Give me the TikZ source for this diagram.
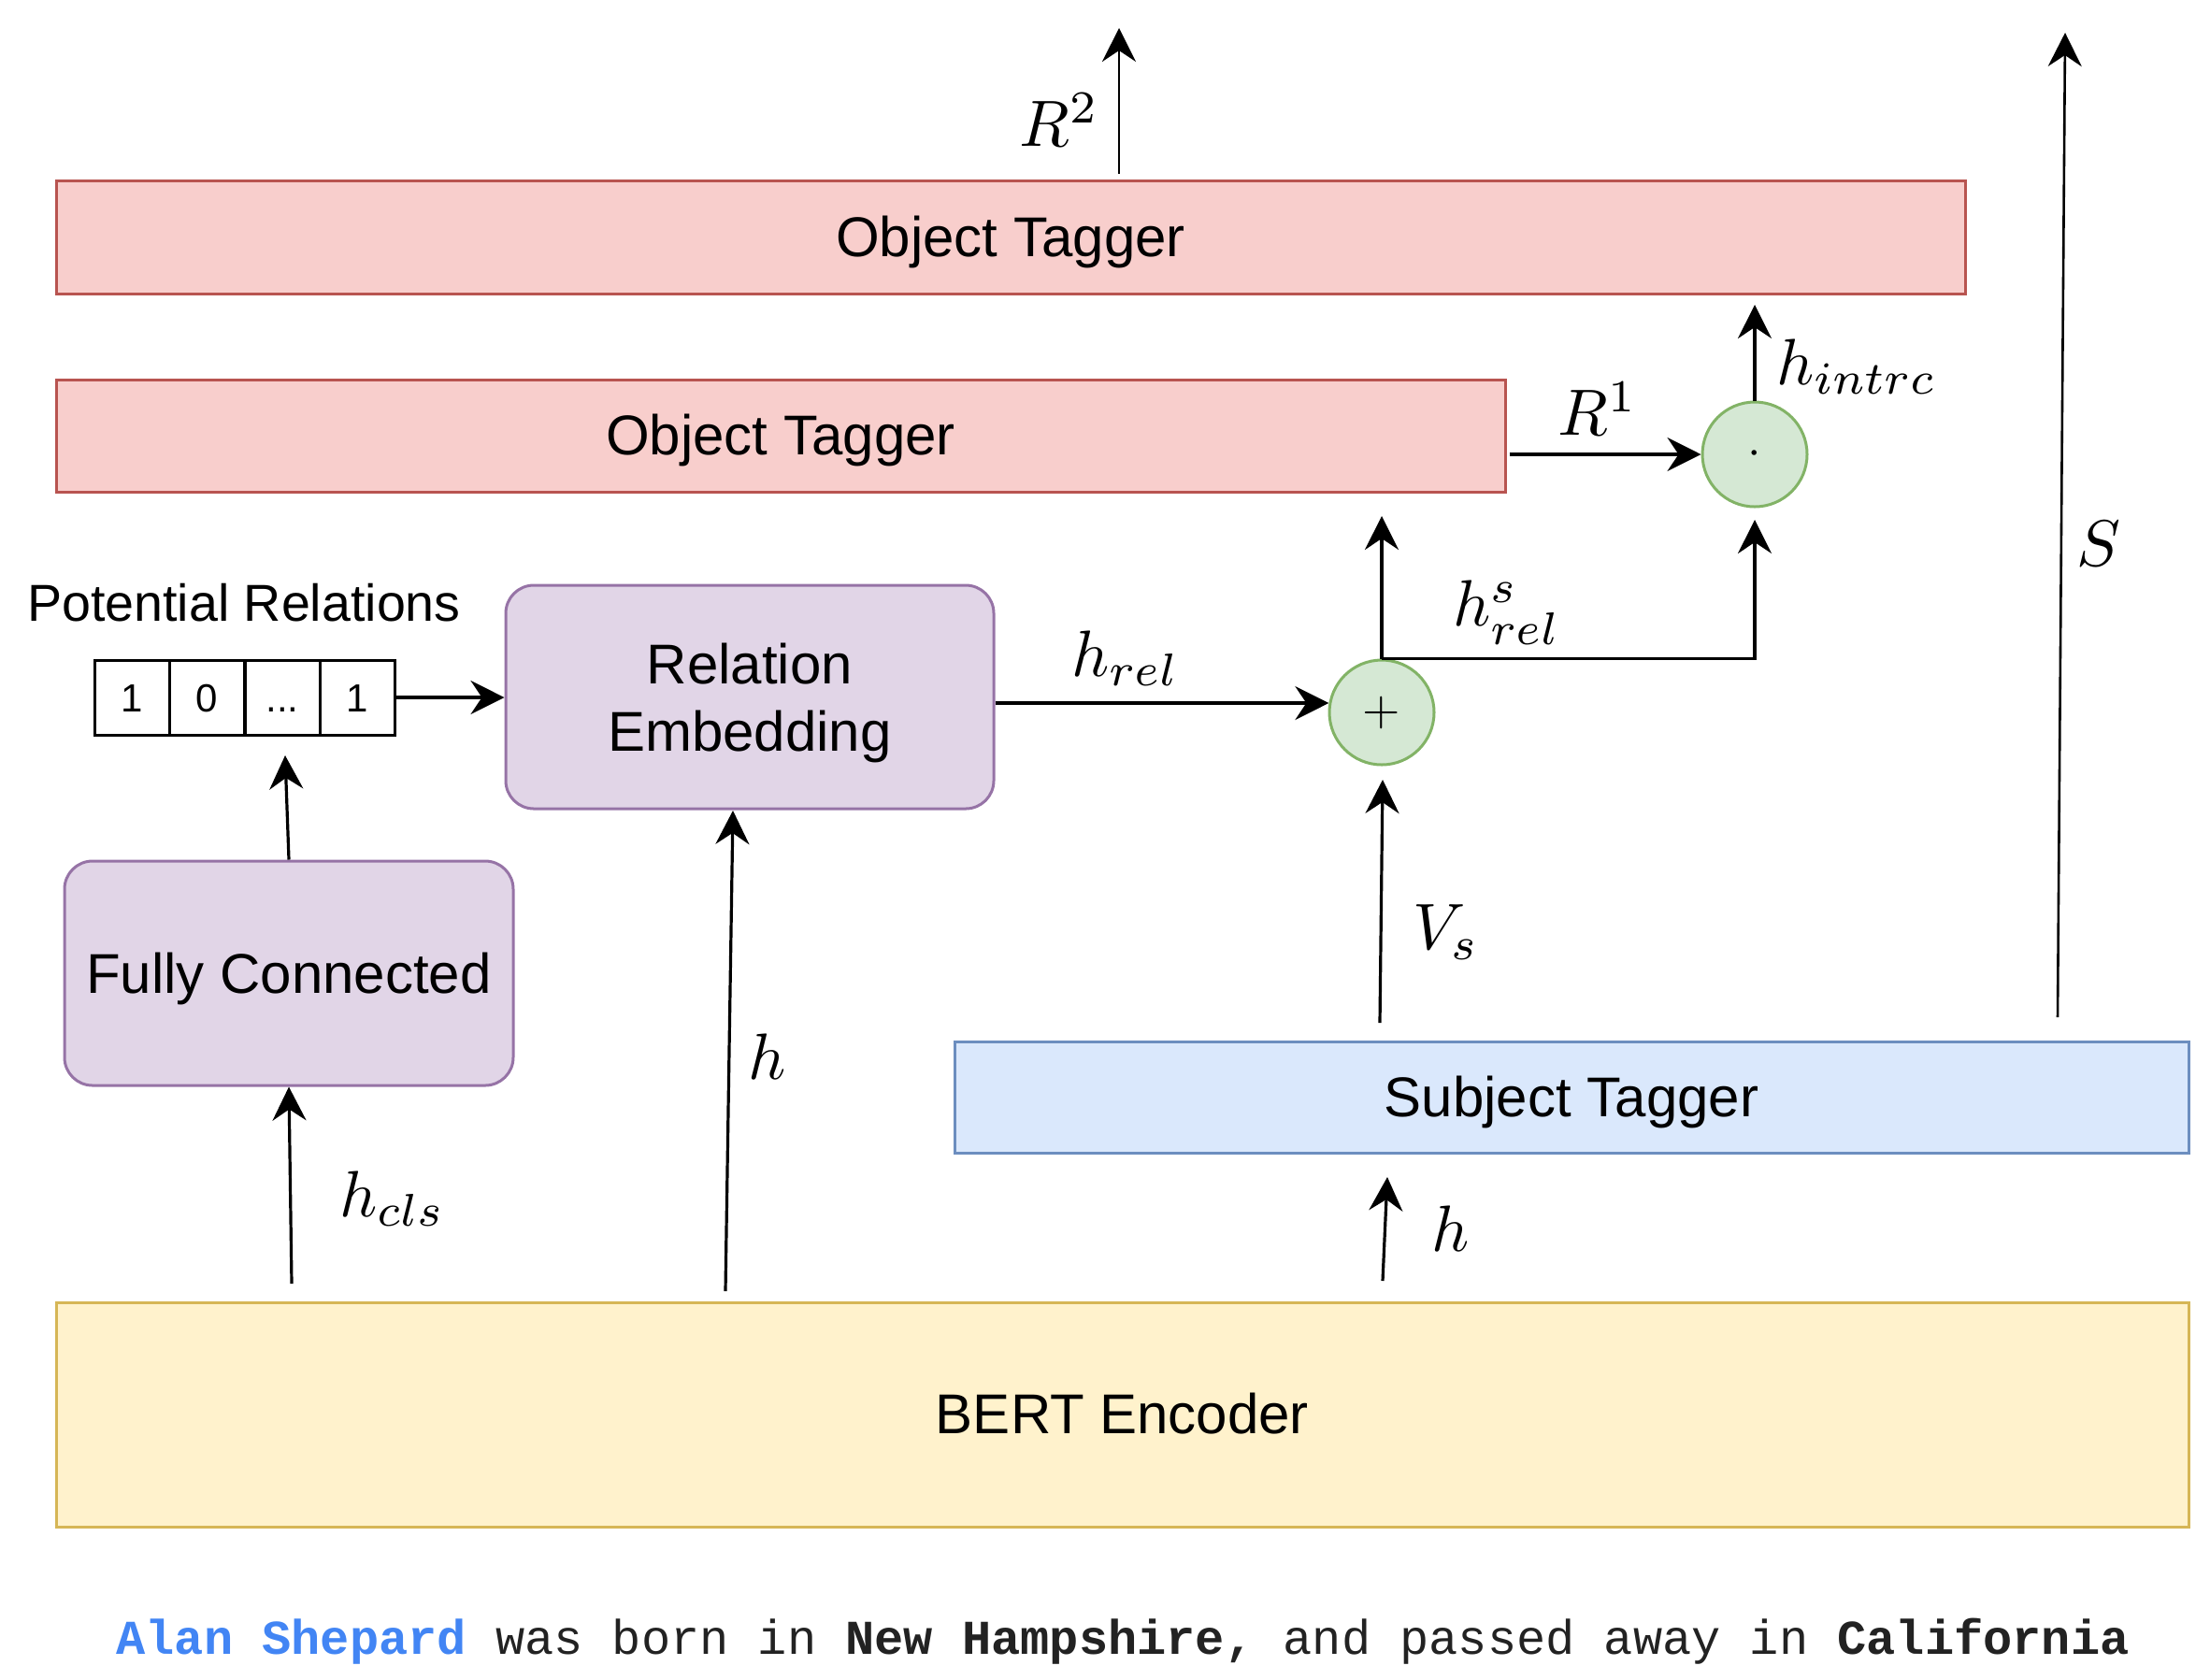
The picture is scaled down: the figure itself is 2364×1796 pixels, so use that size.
\documentclass[tikz,border=0pt]{standalone}
\usepackage{fontspec}
\setmainfont{Liberation Sans}
\setmonofont{Liberation Mono}
\usetikzlibrary{arrows.meta,calc}
\definecolor{redfill}{HTML}{F8CECC}
\definecolor{redline}{HTML}{B85450}
\definecolor{purfill}{HTML}{E1D5E7}
\definecolor{purline}{HTML}{9673A6}
\definecolor{bluefill}{HTML}{DAE8FC}
\definecolor{blueline}{HTML}{6C8EBF}
\definecolor{yelfill}{HTML}{FFF2CC}
\definecolor{yelline}{HTML}{D6B656}
\definecolor{grnfill}{HTML}{D5E8D4}
\definecolor{grnline}{HTML}{82B366}
\definecolor{nameblue}{HTML}{4285F4}
\definecolor{sentgray}{HTML}{222222}
\newcommand{\mylblmath}[1]{\scalebox{3.5}{$#1$}}
\begin{document}
\begin{tikzpicture}[x=0.5pt,y=-0.5pt,
  box/.style={draw, line width=1.5pt, inner sep=0pt, align=center, text height=27.15pt, text depth=6.36pt, font=\fontsize{30}{36}\selectfont},
  redbox/.style={box, fill=redfill, draw=redline},
  purbox/.style={draw, line width=1.5pt, inner sep=0pt, fill=purfill, draw=purline, rounded corners=15pt},
  btxt/.style={inner sep=0pt, align=center, font=\fontsize{30}{36}\selectfont},
  cell/.style={draw, line width=1.5pt, minimum width=40pt, minimum height=40pt, inner sep=0pt, text height=15pt, text depth=0pt, font=\fontsize{21}{25}\selectfont},
  opcirc/.style={circle, draw=grnline, fill=grnfill, line width=1.5pt, minimum size=56pt, inner sep=0pt},
  arr/.style={-{Stealth[length=18pt,width=18pt,inset=6pt]}, line width=1.6pt},
  lbl/.style={inner sep=0pt}
]
\useasboundingbox (0,0) rectangle (2364,1796);

% boxes
\node[redbox, minimum width=1021pt, minimum height=60.5pt] (ot2) at (1081,253.5) {Object Tagger};
\node[redbox, minimum width=775pt, minimum height=60pt] (ot1) at (835,466) {Object Tagger};
\node[purbox, minimum width=261pt, minimum height=119.5pt] (re) at (802,745.5) {};
\node[btxt] (retxt) at ($(re.center)+(0,6)$) {Relation\\Embedding};
\node[purbox, minimum width=240pt, minimum height=120pt] (fc) at (309,1041) {};
\node[btxt] (fctxt) at ($(fc.center)+(0,6)$) {Fully Connected};
\node[box, fill=bluefill, draw=blueline, minimum width=660pt, minimum height=59.5pt] (st) at (1681,1173.5) {Subject Tagger};
\node[box, fill=yelfill, draw=yelline, minimum width=1140.5pt, minimum height=120pt] (bert) at (1200.5,1513) {BERT Encoder};

% potential relations
\node[font=\fontsize{27.8}{33}\selectfont, inner sep=0pt] (prl) at (261,645) {Potential Relations};
\node[cell] (c1) at (141,746) {1};
\node[cell] (c2) at (221,746) {0};
\node[cell] (c3) at (302,746) {.\kern0pt.\kern0pt.};
\node[cell] (c4) at (382,746) {1};

% operators
\node[opcirc] (plus) at (1478,762) {\scalebox{2.6}{$+$}};
\node[opcirc] (dot) at (1877,486) {\scalebox{2.6}{$\cdot$}};

% free ends
\coordinate (hclsS) at (312,1373);
\coordinate (hclsE) at (309,1164);
\coordinate (fcup) at (305,808);
\coordinate (hmS) at (776,1381);
\coordinate (hmE) at (784,867);
\coordinate (plusup) at (1478,552);
\coordinate (dotin) at (1877,556);
\coordinate (intrc) at (1877,326);
\coordinate (r2S) at (1197,186);
\coordinate (r2E) at (1197,30);
\coordinate (sS) at (2201,1088);
\coordinate (sE) at (2209,35);
\coordinate (vsS) at (1476,1094);
\coordinate (vsE) at (1479,834);
\coordinate (hrS) at (1479,1370);
\coordinate (hrE) at (1484,1259);

% connectors
\draw[arr] (hclsS) -- (fc.south -| hclsE);
\draw[arr] (fc.north) -- (fcup);
\draw[arr] (c4.east) -- (re.west |- c4.east);
\draw[arr] (hmS) -- (hmE);
\draw[arr] (re.east |- plus.170) -- (plus.170);
\draw[arr] (plus.north) -- (plusup);
\draw[arr] (plus.north) -- (plus.north -| dot.south) -- (dotin);
\draw[arr] ($(ot1.east |- dot.west)+(3,0)$) -- (dot.west);
\draw[arr] (dot.north) -- (intrc);
\draw[arr, line width=1.3pt] (r2S) -- (r2E);
\draw[arr, line width=1.3pt] (sS) -- (sE);
\draw[arr] (vsS) -- (vsE);
\draw[arr] (hrS) -- (hrE);

% labels
\node[lbl] (lr2) at (1133,128) {\mylblmath{R^2}};
\node[lbl] (ls) at (2245,582) {\mylblmath{S}};
\node[lbl] (lint) at (1986,392) {\mylblmath{h_{intrc}}};
\node[lbl] (lr1) at (1709,437) {\mylblmath{R^1}};
\node[lbl] (lhs) at (1612,655) {\mylblmath{h^s_{rel}}};
\node[lbl] (lhr) at (1204,704) {\mylblmath{h_{rel}}};
\node[lbl] (lvs) at (1547,997) {\mylblmath{V_s}};
\node[lbl] (lh2) at (1552,1314) {\mylblmath{h}};
\node[lbl] (lh1) at (821,1130) {\mylblmath{h}};
\node[lbl] (lcls) at (420,1282) {\mylblmath{h_{cls}}};

% sentence
\node[anchor=base, inner sep=0pt, text=sentgray, font=\fontsize{26}{31}\selectfont\ttfamily] (sent) at (1201,1769)
  {\textcolor{nameblue}{\bfseries Alan Shepard} was born in {\bfseries New Hampshire,} and passed away in {\bfseries California}};
\end{tikzpicture}
\end{document}
